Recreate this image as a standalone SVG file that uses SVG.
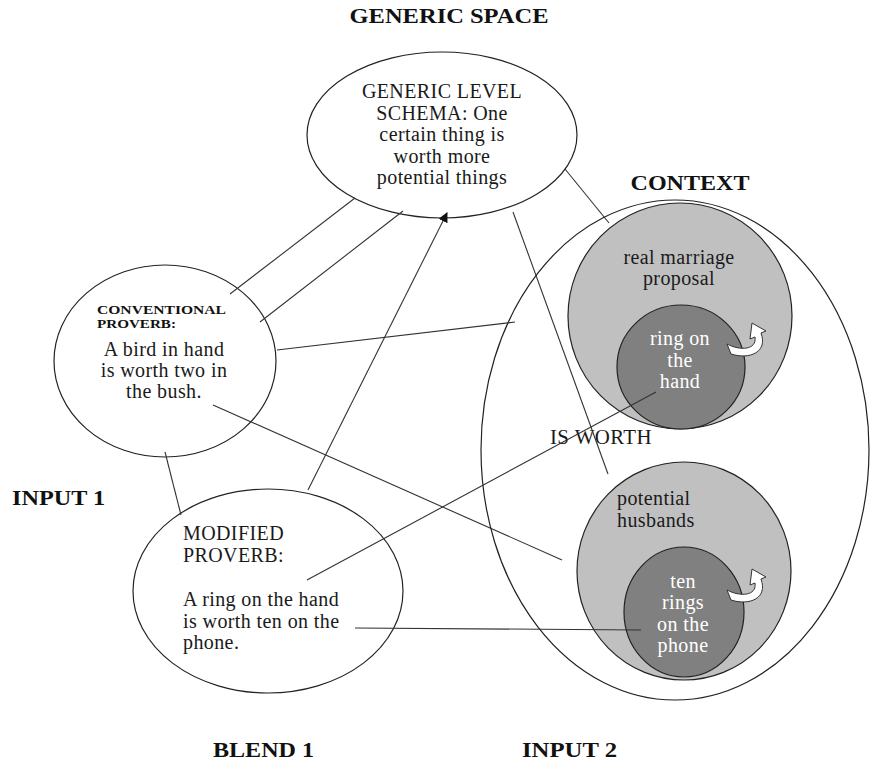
<svg xmlns="http://www.w3.org/2000/svg" width="870" height="762" viewBox="0 0 870 762">
<style>
.t{font-family:"Liberation Serif","Times New Roman",serif;font-size:20px;letter-spacing:0.4px;fill:#1a1a1a}
.b{font-family:"Liberation Serif","Times New Roman",serif;font-weight:bold;font-size:20px;fill:#111}
.s{font-size:13px}
.w{fill:#ffffff}
.node{fill:#fff;stroke:#222;stroke-width:1.2}
.g1{fill:#c0c0c0;stroke:#222;stroke-width:1.2}
.g2{fill:#808080;stroke:#222;stroke-width:1.2}
.ln{stroke:#333;stroke-width:1.1;fill:none}
.arr{fill:#fff;stroke:#333;stroke-width:1;stroke-linejoin:miter}
</style>
<defs>
<marker id="ah" viewBox="0 0 10 10" refX="9" refY="5" markerWidth="10" markerHeight="10" markerUnits="userSpaceOnUse" orient="auto">
<path d="M0,0 L10,5 L0,10 Z" fill="#111"/>
</marker>
<path id="curl" d="M727,344 C740,351 757,350 755,337 L750,339 L752,323 L766,331 L761,333 C768,352 750,360 731,354 Z"/>
</defs>
<rect width="870" height="762" fill="#fff"/>

<g id="titles">
<text class="b" x="449" y="23" text-anchor="middle" textLength="199" lengthAdjust="spacingAndGlyphs">GENERIC SPACE</text>
<text class="b" x="690" y="190" text-anchor="middle" textLength="119" lengthAdjust="spacingAndGlyphs">CONTEXT</text>
<text class="b" x="12" y="505" textLength="93" lengthAdjust="spacingAndGlyphs">INPUT 1</text>
<text class="b" x="213" y="757" textLength="101" lengthAdjust="spacingAndGlyphs">BLEND 1</text>
<text class="b" x="522" y="757" textLength="95" lengthAdjust="spacingAndGlyphs">INPUT 2</text>
</g>

<g id="context">
<ellipse class="node" cx="675" cy="450" rx="194" ry="250"/>
<text class="t" x="550" y="444" textLength="102" lengthAdjust="spacingAndGlyphs">IS WORTH</text>
</g>

<g id="real-marriage">
<ellipse class="g1" cx="680" cy="316" rx="112" ry="113"/>
<text class="t" text-anchor="middle"><tspan x="679" y="264">real marriage</tspan><tspan x="679" y="285">proposal</tspan></text>
</g>
<g id="ring-hand">
<ellipse class="g2" cx="681" cy="367" rx="64" ry="62"/>
<text class="t w" text-anchor="middle"><tspan x="680" y="345">ring on</tspan><tspan x="680" y="367">the</tspan><tspan x="680" y="388">hand</tspan></text>
<use href="#curl" class="arr"/>
</g>

<g id="potential-husbands">
<ellipse class="g1" cx="684" cy="571" rx="107" ry="109"/>
<text class="t"><tspan x="617" y="505">potential</tspan><tspan x="617" y="527">husbands</tspan></text>
</g>
<g id="ten-rings">
<ellipse class="g2" cx="684" cy="612" rx="60" ry="65"/>
<text class="t w" text-anchor="middle"><tspan x="683" y="588">ten</tspan><tspan x="683" y="609">rings</tspan><tspan x="683" y="631">on the</tspan><tspan x="683" y="652">phone</tspan></text>
<use href="#curl" class="arr" transform="translate(0,246)"/>
</g>

<g id="generic">
<ellipse class="node" cx="442" cy="135" rx="135" ry="83"/>
<text class="t" text-anchor="middle"><tspan x="442" y="98">GENERIC LEVEL</tspan><tspan x="442" y="120">SCHEMA: One</tspan><tspan x="442" y="141">certain thing is</tspan><tspan x="442" y="163">worth more</tspan><tspan x="442" y="184">potential things</tspan></text>
</g>

<g id="conventional">
<ellipse class="node" cx="165" cy="361" rx="111" ry="96"/>
<text class="b s" x="97" y="314" textLength="129" lengthAdjust="spacingAndGlyphs">CONVENTIONAL</text>
<text class="b s" x="97" y="328" textLength="79" lengthAdjust="spacingAndGlyphs">PROVERB:</text>
<text class="t" text-anchor="middle"><tspan x="164" y="356">A bird in hand</tspan><tspan x="164" y="377">is worth two in</tspan><tspan x="164" y="398">the bush.</tspan></text>
</g>

<g id="modified">
<ellipse class="node" cx="268" cy="591" rx="135" ry="102"/>
<text class="t"><tspan x="183" y="540">MODIFIED</tspan><tspan x="183" y="562">PROVERB:</tspan><tspan x="183" y="606">A ring on the hand</tspan><tspan x="183" y="628">is worth ten on the</tspan><tspan x="183" y="649">phone.</tspan></text>
</g>

<g id="connectors">
<line class="ln" x1="355" y1="198" x2="230" y2="294"/>
<line class="ln" x1="403" y1="211" x2="260" y2="322"/>
<line class="ln" x1="277" y1="350" x2="515" y2="322"/>
<line class="ln" x1="213" y1="405" x2="562" y2="560"/>
<line class="ln" x1="165" y1="452" x2="181" y2="515"/>
<line class="ln" x1="308" y1="490" x2="447" y2="213" marker-end="url(#ah)"/>
<line class="ln" x1="513" y1="212" x2="608" y2="474"/>
<line class="ln" x1="565" y1="169" x2="609" y2="223"/>
<line class="ln" x1="307" y1="580" x2="656" y2="392"/>
<line class="ln" x1="355" y1="628" x2="641" y2="630"/>
</g>
</svg>
